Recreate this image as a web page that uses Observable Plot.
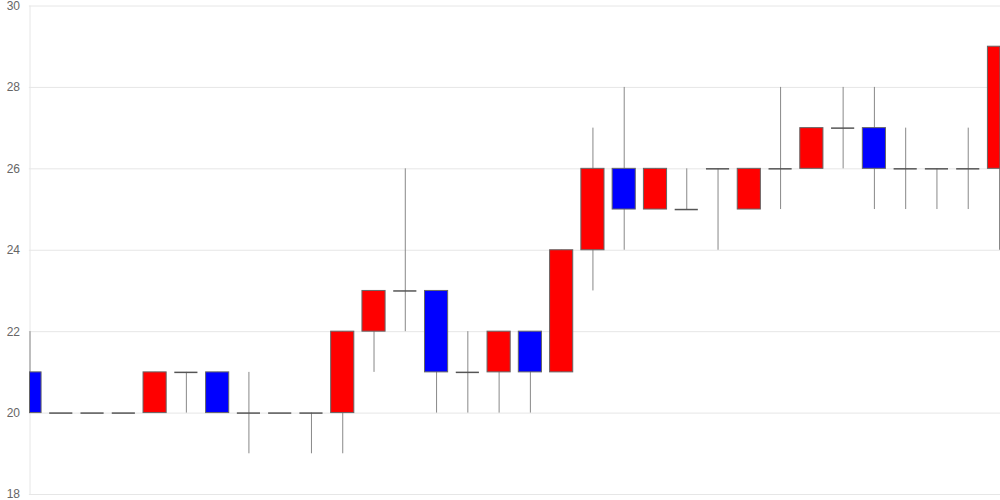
<!DOCTYPE html>
<html>
<head>
<meta charset="utf-8">
<script src="https://cdn.jsdelivr.net/npm/d3@7"></script>
<script src="https://cdn.jsdelivr.net/npm/@observablehq/plot@0.6"></script>
<style>
  html, body { margin: 0; padding: 0; background: #fff; }
  #chart svg { display: block; }
</style>
</head>
<body>
<div id="chart"></div>
<script>
const opens  = [21,20,20,20,20,21,21,20,20,20,20,22,23,23,21,21,22,21,24,26,25,25,26,25,26,26,27,27,26,26,26,26];
const closes = [20,20,20,20,21,21,20,20,20,20,22,23,23,21,21,22,21,24,26,25,26,25,26,26,26,27,27,26,26,26,26,29];
const highs  = [22,20,20,20,21,21,21,21,20,20,22,23,26,23,22,22,22,24,27,28,26,26,26,26,28,27,28,28,27,26,27,29];
const lows   = [20,20,20,20,20,20,20,19,20,19,19,21,22,20,20,20,20,21,23,24,25,25,24,25,25,26,26,25,25,25,25,24];
const yTicks = [18,20,22,24,26,28,30];

const data = opens.map((o, i) => ({i, open: o, close: closes[i], high: highs[i], low: lows[i]}));
const bodies = data.filter(d => d.open !== d.close);
const dojis = data.filter(d => d.open === d.close);
const half = 0.37;

const chart = Plot.plot({
  width: 1000,
  height: 500,
  marginLeft: 29.5,
  marginRight: 1,
  marginTop: 5.5,
  marginBottom: 6,
  style: {fontFamily: "'Liberation Sans', Arial, sans-serif", fontSize: "12px", background: "#fff", overflow: "visible"},
  x: {domain: [0, 31], axis: null},
  y: {domain: [18, 30], ticks: yTicks},
  marks: [
    Plot.gridY(yTicks, {stroke: "#e6e6e6", strokeOpacity: 1, x1: -0.02, x2: 31.05, clip: false}),
    Plot.ruleX([0], {stroke: "#e6e6e6", strokeOpacity: 1}),
    Plot.axisY(yTicks, {tickSize: 0, tickPadding: 10, fill: "#666", fontSize: 12}),
    Plot.ruleX(data.filter(d => d.high !== d.low), {x: "i", y1: "low", y2: "high", stroke: "#888", strokeWidth: 1}),
    Plot.rect(bodies, {
      x1: d => Math.max(0, d.i - half), x2: d => Math.min(31.03, d.i + half),
      y1: "open", y2: "close",
      fill: d => d.close > d.open ? "#ff0000" : "#0000ff",
      stroke: "#666", strokeWidth: 1
    }),
    Plot.ruleY(dojis, {x1: d => d.i - half, x2: d => d.i + half, y: "open", stroke: "#555", strokeWidth: 1.5})
  ]
});
document.getElementById("chart").appendChild(chart);
</script>
</body>
</html>
